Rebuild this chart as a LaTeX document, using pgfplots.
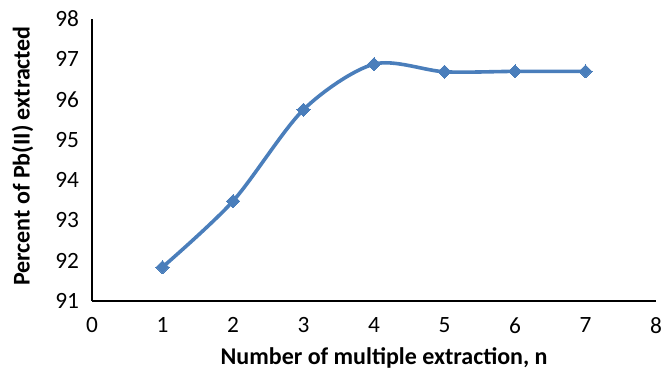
\documentclass[border=0pt]{standalone}
\usepackage{fontspec}
\setmainfont{Carlito}
\usepackage{pgfplots}
\pgfplotsset{compat=1.18}
\definecolor{xlblue}{RGB}{74,126,187}
\begin{document}
\begin{tikzpicture}
\begin{axis}[
  at={(0,0)}, anchor=south west,
  scale only axis,
  width=423pt, height=211.5pt,
  xmin=0, xmax=8, ymin=91, ymax=98,
  xtick={0,1,...,8}, ytick={91,92,...,98},
  axis lines*=left,
  axis line style={black, line width=1.3pt},
  major tick length=0pt,
  /pgf/number format/assume math mode=true,
  ticklabel style={font=\fontsize{17.5}{20}\selectfont, black, inner sep=0pt},
  xticklabel style={anchor=north, yshift=-12pt},
  yticklabel style={anchor=east, xshift=-9.5pt},
  xlabel={\textbf{Number of multiple extraction, n}},
  ylabel={\textbf{Percent of Pb(II) extracted}},
  xlabel style={font=\fontsize{18}{20}\selectfont, at={(axis description cs:0.518,0)}, anchor=center, yshift=-42.5pt},
  ylabel style={font=\fontsize{18}{20}\selectfont, at={(axis description cs:-0.123,0.514)}, anchor=center},
  clip=false,
]
\addplot[color=xlblue, line width=2.7pt, smooth, tension=0.5,
  mark=square*, mark size=3.5pt, mark options={rotate=45, fill=xlblue, draw=xlblue, line width=0pt}]
  coordinates {(1,91.84) (2,93.48) (3,95.75) (4,96.88) (5,96.69) (6,96.7) (7,96.7)};
\end{axis}
\pgfresetboundingbox
\path[use as bounding box] (-69pt,-51pt) rectangle (428.25pt,225.75pt);
\end{tikzpicture}
\end{document}
